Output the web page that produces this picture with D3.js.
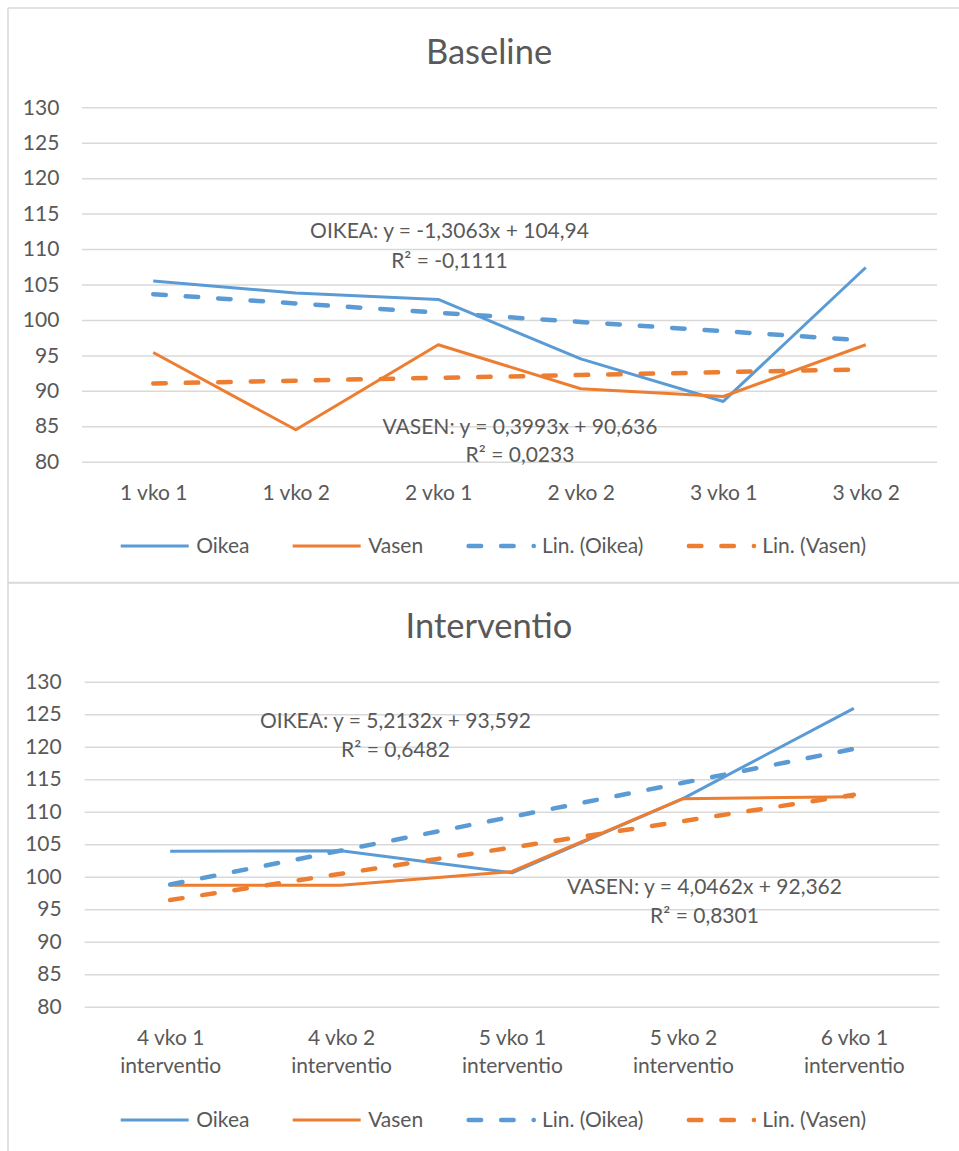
<!DOCTYPE html>
<html>
<head>
<meta charset="utf-8">
<script src="https://cdn.jsdelivr.net/npm/d3@7"></script>
<style>
  html, body { margin: 0; padding: 0; background: #fff; }
  svg text { font-family: Lato, "Open Sans", sans-serif; fill: #595959; }
</style>
</head>
<body>
<svg id="chart" width="959" height="1151"></svg>
<script>
// ---- Baseline period ----
const baselineCategories = ["1 vko 1", "1 vko 2", "2 vko 1", "2 vko 2", "3 vko 1", "3 vko 2"];
const baselineOikea = [105.5, 103.8, 102.9, 94.5, 88.5, 107.4];
const baselineVasen = [95.4, 84.5, 96.5, 90.3, 89.2, 96.5];
// linear trend: [slope, intercept, R²]
const baselineTrendOikea = [-1.3063, 104.94, -0.1111];
const baselineTrendVasen = [0.3993, 90.636, 0.0233];

// ---- Intervention period ----
const interventioCategories = ["4 vko 1\ninterventio", "4 vko 2\ninterventio", "5 vko 1\ninterventio", "5 vko 2\ninterventio", "6 vko 1\ninterventio"];
const interventioOikea = [103.9, 104.0, 100.6, 112.0, 125.9];
const interventioVasen = [98.7, 98.7, 100.8, 112.0, 112.3];
const interventioTrendOikea = [5.2132, 93.592, 0.6482];
const interventioTrendVasen = [4.0462, 92.362, 0.8301];

// shared value axis
const yTicks = [80, 85, 90, 95, 100, 105, 110, 115, 120, 125, 130];
const seriesNames = ["Oikea", "Vasen"];
const trendNames = ["Lin. (Oikea)", "Lin. (Vasen)"];

const BLUE = "#5B9BD5", ORANGE = "#ED7D31", GRID = "#D9D9D9";
const FONT = "21px";
const svg = d3.select("#chart");

// chart frames
svg.append("line").attr("x1", 8).attr("x2", 959).attr("y1", 8).attr("y2", 8)
  .attr("stroke", GRID).attr("stroke-width", 1.5);
svg.append("line").attr("x1", 8).attr("x2", 8).attr("y1", 8).attr("y2", 1151)
  .attr("stroke", GRID).attr("stroke-width", 1.5);
svg.append("line").attr("x1", 8).attr("x2", 959).attr("y1", 582.7).attr("y2", 582.7)
  .attr("stroke", GRID).attr("stroke-width", 2);

const fmt = v => String(v).replace(".", ",");
const eqText = (t, name) => `${name}: y = ${fmt(t[0])}x + ${fmt(t[1])}`;
const r2Text = t => `R² = ${fmt(t[2])}`;

function drawChart(cfg) {
  const g = svg.append("g");
  const cats = cfg.categories;

  const x = d3.scalePoint().domain(cats).range([cfg.x0, cfg.x1]).padding(0.5);
  const y = d3.scaleLinear().domain([80, 130]).range([cfg.yBottom, cfg.yTop]);

  // title
  g.append("text").attr("x", 489).attr("y", cfg.titleY)
    .attr("text-anchor", "middle").style("font-size", "34.5px").text(cfg.title);

  // gridlines
  const grid = g.append("g").attr("transform", `translate(${cfg.x0},0)`)
    .call(d3.axisLeft(y).tickValues(yTicks).tickSize(-(cfg.x1 - cfg.x0)).tickFormat(""));
  grid.select(".domain").remove();
  grid.selectAll("line").attr("stroke", GRID).attr("stroke-width", 1.5);

  // value labels
  const yAxis = g.append("g").attr("transform", `translate(${cfg.x0},0)`)
    .call(d3.axisLeft(y).tickValues(yTicks).tickSize(0).tickPadding(cfg.yPad));
  yAxis.select(".domain").remove();
  yAxis.selectAll("text").style("font-size", FONT).attr("fill", "#595959");

  // category labels
  const xAxis = g.append("g").attr("transform", `translate(0,${cfg.yBottom})`)
    .call(d3.axisBottom(x).tickSize(0));
  xAxis.select(".domain").remove();
  xAxis.selectAll("text").each(function(d) {
    const t = d3.select(this).text(null).attr("y", 38.3).attr("dy", 0)
      .style("font-size", FONT).attr("fill", "#595959");
    d.split("\n").forEach((ln, i) => {
      t.append("tspan").attr("x", 0).attr("dy", i === 0 ? 0 : 28.3).text(ln);
    });
  });

  const line = d3.line().x((d, i) => x(cats[i])).y(d => y(d));

  // observed series
  [[cfg.oikea, BLUE], [cfg.vasen, ORANGE]].forEach(([vals, col]) => {
    g.append("path").datum(vals).attr("d", line)
      .attr("fill", "none").attr("stroke", col).attr("stroke-width", 3)
      .attr("stroke-linejoin", "round");
  });

  // linear trendlines
  [[cfg.trendOikea, BLUE], [cfg.trendVasen, ORANGE]].forEach(([t, col]) => {
    const vals = cats.map((c, i) => t[0] * (i + 1) + t[1]);
    g.append("path").datum(vals).attr("d", line)
      .attr("fill", "none").attr("stroke", col).attr("stroke-width", 4.5)
      .attr("stroke-dasharray", "12.5 20").attr("stroke-linecap", "round");
  });

  // trendline equations
  [[cfg.trendOikea, "OIKEA", cfg.eqOikea], [cfg.trendVasen, "VASEN", cfg.eqVasen]].forEach(([t, name, pos]) => {
    const txt = g.append("text").attr("text-anchor", "middle").style("font-size", FONT);
    txt.append("tspan").attr("x", pos[0]).attr("y", pos[1]).text(eqText(t, name));
    txt.append("tspan").attr("x", pos[0]).attr("y", pos[1] + pos[2]).text(r2Text(t));
  });

  // legend, spread across a fixed span
  const items = [
    { label: seriesNames[0], color: BLUE, dashed: false },
    { label: seriesNames[1], color: ORANGE, dashed: false },
    { label: trendNames[0], color: BLUE, dashed: true },
    { label: trendNames[1], color: ORANGE, dashed: true }
  ];
  const lg = g.append("g").attr("transform", `translate(0,${cfg.legendY})`);
  const groups = lg.selectAll("g").data(items).join("g");
  groups.append("line")
    .attr("x1", d => d.dashed ? 2.25 : 0)
    .attr("x2", d => d.dashed ? 67.4 : 68)
    .attr("y1", 0).attr("y2", 0)
    .attr("stroke", d => d.color)
    .attr("stroke-width", d => d.dashed ? 4.5 : 3)
    .attr("stroke-dasharray", d => d.dashed ? "12.5 20" : null)
    .attr("stroke-linecap", d => d.dashed ? "round" : "butt");
  const labels = groups.append("text").attr("x", 75.5).attr("dy", "0.35em")
    .style("font-size", FONT).text(d => d.label);
  const widths = labels.nodes().map(n => 75.5 + n.getComputedTextLength());
  const legendStart = 120.7, legendEnd = 866;
  const gap = (legendEnd - legendStart - d3.sum(widths)) / (widths.length - 1);
  let cursor = legendStart;
  groups.attr("transform", (d, i) => {
    const tx = cursor;
    cursor += widths[i] + gap;
    return `translate(${tx},0)`;
  });
}

drawChart({
  title: "Baseline", titleY: 64,
  categories: baselineCategories, oikea: baselineOikea, vasen: baselineVasen,
  trendOikea: baselineTrendOikea, trendVasen: baselineTrendVasen,
  x0: 82, x1: 937, yTop: 107.3, yBottom: 461.7, yPad: 22.7,
  eqOikea: [449.5, 238, 29.5], eqVasen: [520, 433.5, 28.5],
  legendY: 546
});

drawChart({
  title: "Interventio", titleY: 638,
  categories: interventioCategories, oikea: interventioOikea, vasen: interventioVasen,
  trendOikea: interventioTrendOikea, trendVasen: interventioTrendVasen,
  x0: 84.7, x1: 939.3, yTop: 681.7, yBottom: 1006.7, yPad: 23,
  eqOikea: [395.5, 728.3, 29], eqVasen: [704.5, 894, 29],
  legendY: 1120
});
</script>
</body>
</html>
